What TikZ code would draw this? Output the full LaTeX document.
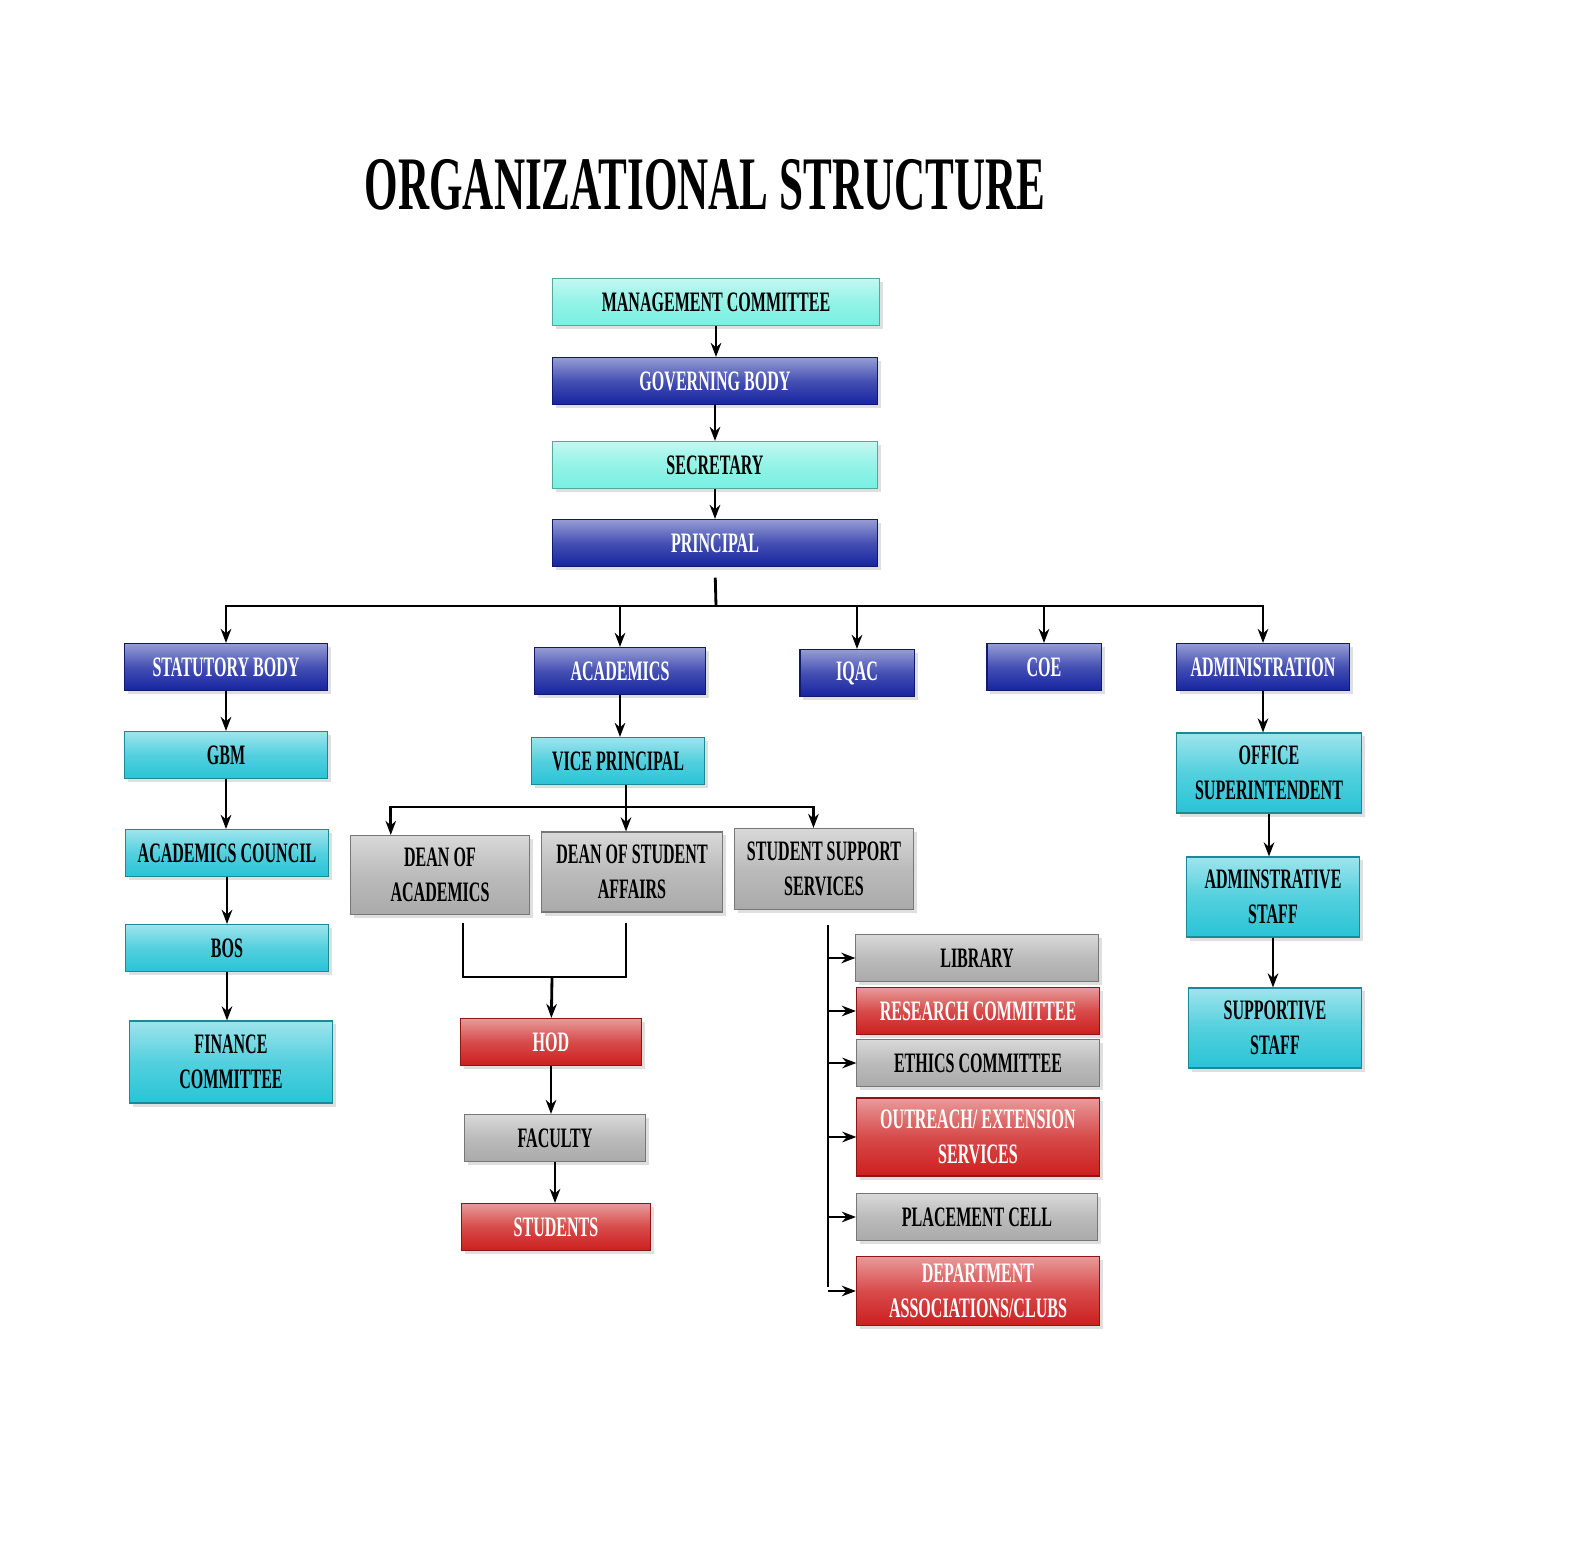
\documentclass[tikz,border=0pt]{standalone}
\usepackage{fontspec}
\setmainfont{Liberation Serif}[FakeStretch=0.57]
\usetikzlibrary{positioning, arrows.meta, shadows}
\definecolor{paleaqua}{RGB}{120, 240, 225}
\definecolor{deepblue}{RGB}{22, 36, 160}
\definecolor{cyanbox}{RGB}{40, 196, 214}
\definecolor{greybox}{RGB}{170, 170, 170}
\definecolor{redbox}{RGB}{205, 30, 30}

\begin{document}
\begin{tikzpicture}[
  x=0.01cm, y=-0.01cm,
  font=\bfseries\fontsize{8}{10}\selectfont,
  orgbox/.style={
    draw=#1!70!black,
    line width=0.3pt,
    top color=#1!45!white,
    bottom color=#1,
    middle color=#1!80!white,
    drop shadow={opacity=0.25, shadow xshift=1pt, shadow yshift=-1pt},
    align=center,
    inner sep=1pt,
    minimum height=0.47cm,
  },
  aquabox/.style={orgbox=paleaqua, text=black},
  bluebox/.style={orgbox=deepblue, text=white},
  tealbox/.style={orgbox=cyanbox, text=black},
  graybox/.style={orgbox=greybox, text=black},
  rubybox/.style={orgbox=redbox, text=white},
  link/.style={line width=0.8pt, -{Stealth[length=4pt,width=3pt]}},
  wire/.style={line width=0.8pt},
]
  \useasboundingbox (0,0) rectangle (1587,1567);

  % title
  \node[font=\bfseries\fontsize{21.5}{24}\selectfont] (title) at (705,185) {ORGANIZATIONAL STRUCTURE};

  % top chain
  \node[aquabox, minimum width=3.26cm] (mgmt) at (716,302) {MANAGEMENT COMMITTEE};
  \node[bluebox, minimum width=3.25cm] (gov) at (715,381) {GOVERNING BODY};
  \node[aquabox, minimum width=3.25cm] (secy) at (715,465) {SECRETARY};
  \node[bluebox, minimum width=3.25cm] (prin) at (715,543) {PRINCIPAL};

  % second level
  \node[bluebox, minimum width=2.02cm] (stat) at (226,667) {STATUTORY BODY};
  \node[bluebox, minimum width=1.71cm] (acad) at (620,671) {ACADEMICS};
  \node[bluebox, minimum width=1.14cm] (iqac) at (857,673) {IQAC};
  \node[bluebox, minimum width=1.14cm] (coe) at (1044,667) {COE};
  \node[bluebox, minimum width=1.72cm] (admin) at (1263,667) {ADMINISTRATION};

  % statutory column
  \node[tealbox, minimum width=2.02cm] (gbm) at (226,755) {GBM};
  \node[tealbox, minimum width=2.03cm] (council) at (227,853) {ACADEMICS COUNCIL};
  \node[tealbox, minimum width=2.03cm] (bos) at (227,948) {BOS};
  \node[tealbox, minimum width=2.03cm, minimum height=0.82cm] (fin) at (231,1062) {FINANCE\\COMMITTEE};

  % academics column
  \node[tealbox, minimum width=1.72cm] (vp) at (618,761) {VICE PRINCIPAL};
  \node[graybox, minimum width=1.79cm, minimum height=0.79cm] (dacad) at (440,875) {DEAN OF\\ACADEMICS};
  \node[graybox, minimum width=1.80cm, minimum height=0.80cm] (dstud) at (632,872) {DEAN OF STUDENT\\AFFAIRS};
  \node[graybox, minimum width=1.79cm, minimum height=0.81cm] (sss) at (824,869) {STUDENT SUPPORT\\SERVICES};
  \node[rubybox, minimum width=1.81cm] (hod) at (551,1042) {HOD};
  \node[graybox, minimum width=1.81cm] (fac) at (555,1138) {FACULTY};
  \node[rubybox, minimum width=1.89cm] (stu) at (556,1227) {STUDENTS};

  % support services
  \node[graybox, minimum width=2.42cm] (lib) at (977,958) {LIBRARY};
  \node[rubybox, minimum width=2.43cm] (res) at (978,1011) {RESEARCH COMMITTEE};
  \node[graybox, minimum width=2.42cm] (eth) at (978,1063) {ETHICS COMMITTEE};
  \node[rubybox, minimum width=2.42cm, minimum height=0.78cm] (out) at (978,1137) {OUTREACH/ EXTENSION\\SERVICES};
  \node[graybox, minimum width=2.41cm] (plc) at (977,1217) {PLACEMENT CELL};
  \node[rubybox, minimum width=2.43cm, minimum height=0.69cm] (dept) at (978,1291) {DEPARTMENT\\ASSOCIATIONS/CLUBS};

  % administration column
  \node[tealbox, minimum width=1.84cm, minimum height=0.80cm] (osup) at (1269,773) {OFFICE\\SUPERINTENDENT};
  \node[tealbox, minimum width=1.72cm, minimum height=0.80cm] (astaff) at (1273,897) {ADMINSTRATIVE\\STAFF};
  \node[tealbox, minimum width=1.72cm, minimum height=0.80cm] (sstaff) at (1275,1028) {SUPPORTIVE\\STAFF};

  % junction points
  \coordinate (pbus) at (716,606);
  \coordinate (vbus) at (626,807);
  \coordinate (dl) at (463,923);
  \coordinate (dr) at (626,923);
  \coordinate (dm) at (552,977);
  \coordinate (stop) at (828,925);
  \coordinate (sbot) at (828,1287);

  % top chain links
  \draw[link] (mgmt.south) -- (mgmt.south |- gov.north);
  \draw[link] (gov.south) -- (gov.south |- secy.north);
  \draw[link] (secy.south) -- (secy.south |- prin.north);

  % principal bus
  \draw[wire, shorten <=3pt] (prin.south) -- (pbus);
  \draw[link] (pbus) -| (stat.north);
  \draw[link] (pbus) -| (acad.north);
  \draw[link] (pbus) -| (iqac.north);
  \draw[link] (pbus) -| (coe.north);
  \draw[link] (pbus) -| (admin.north);

  % statutory links
  \draw[link] (stat.south) -- (stat.south |- gbm.north);
  \draw[link] (gbm.south) -- (gbm.south |- council.north);
  \draw[link] (council.south) -- (council.south |- bos.north);
  \draw[link] (bos.south) -- (bos.south |- fin.north);

  % academics links
  \draw[link] (acad.south) -- (acad.south |- vp.north);
  \draw[wire] (vp.south -| vbus) -- (vbus);
  \draw[link] (vbus) -| ([xshift=-14pt]dacad.north);
  \draw[link] (vbus) -- (dstud.north -| vbus);
  \draw[link] (vbus) -| ([xshift=-3pt]sss.north);
  \draw[wire] (dl) -- (dl |- dm) -- (dr |- dm) -- (dr);
  \draw[link] (dm) -- (hod);
  \draw[link] (hod.south) -- (hod.south |- fac.north);
  \draw[link] (fac.south) -- (fac.south |- stu.north);

  % support services links
  \draw[wire] (stop) -- (sbot);
  \foreach \n in {lib, res, eth, out, plc, dept}
    \draw[link] (stop |- \n.west) -- (\n.west);

  % administration links
  \draw[link] (admin.south) -- (admin.south |- osup.north);
  \draw[link] (osup.south) -- (osup.south |- astaff.north);
  \draw[link] (astaff.south) -- (astaff.south |- sstaff.north);
\end{tikzpicture}
\end{document}
